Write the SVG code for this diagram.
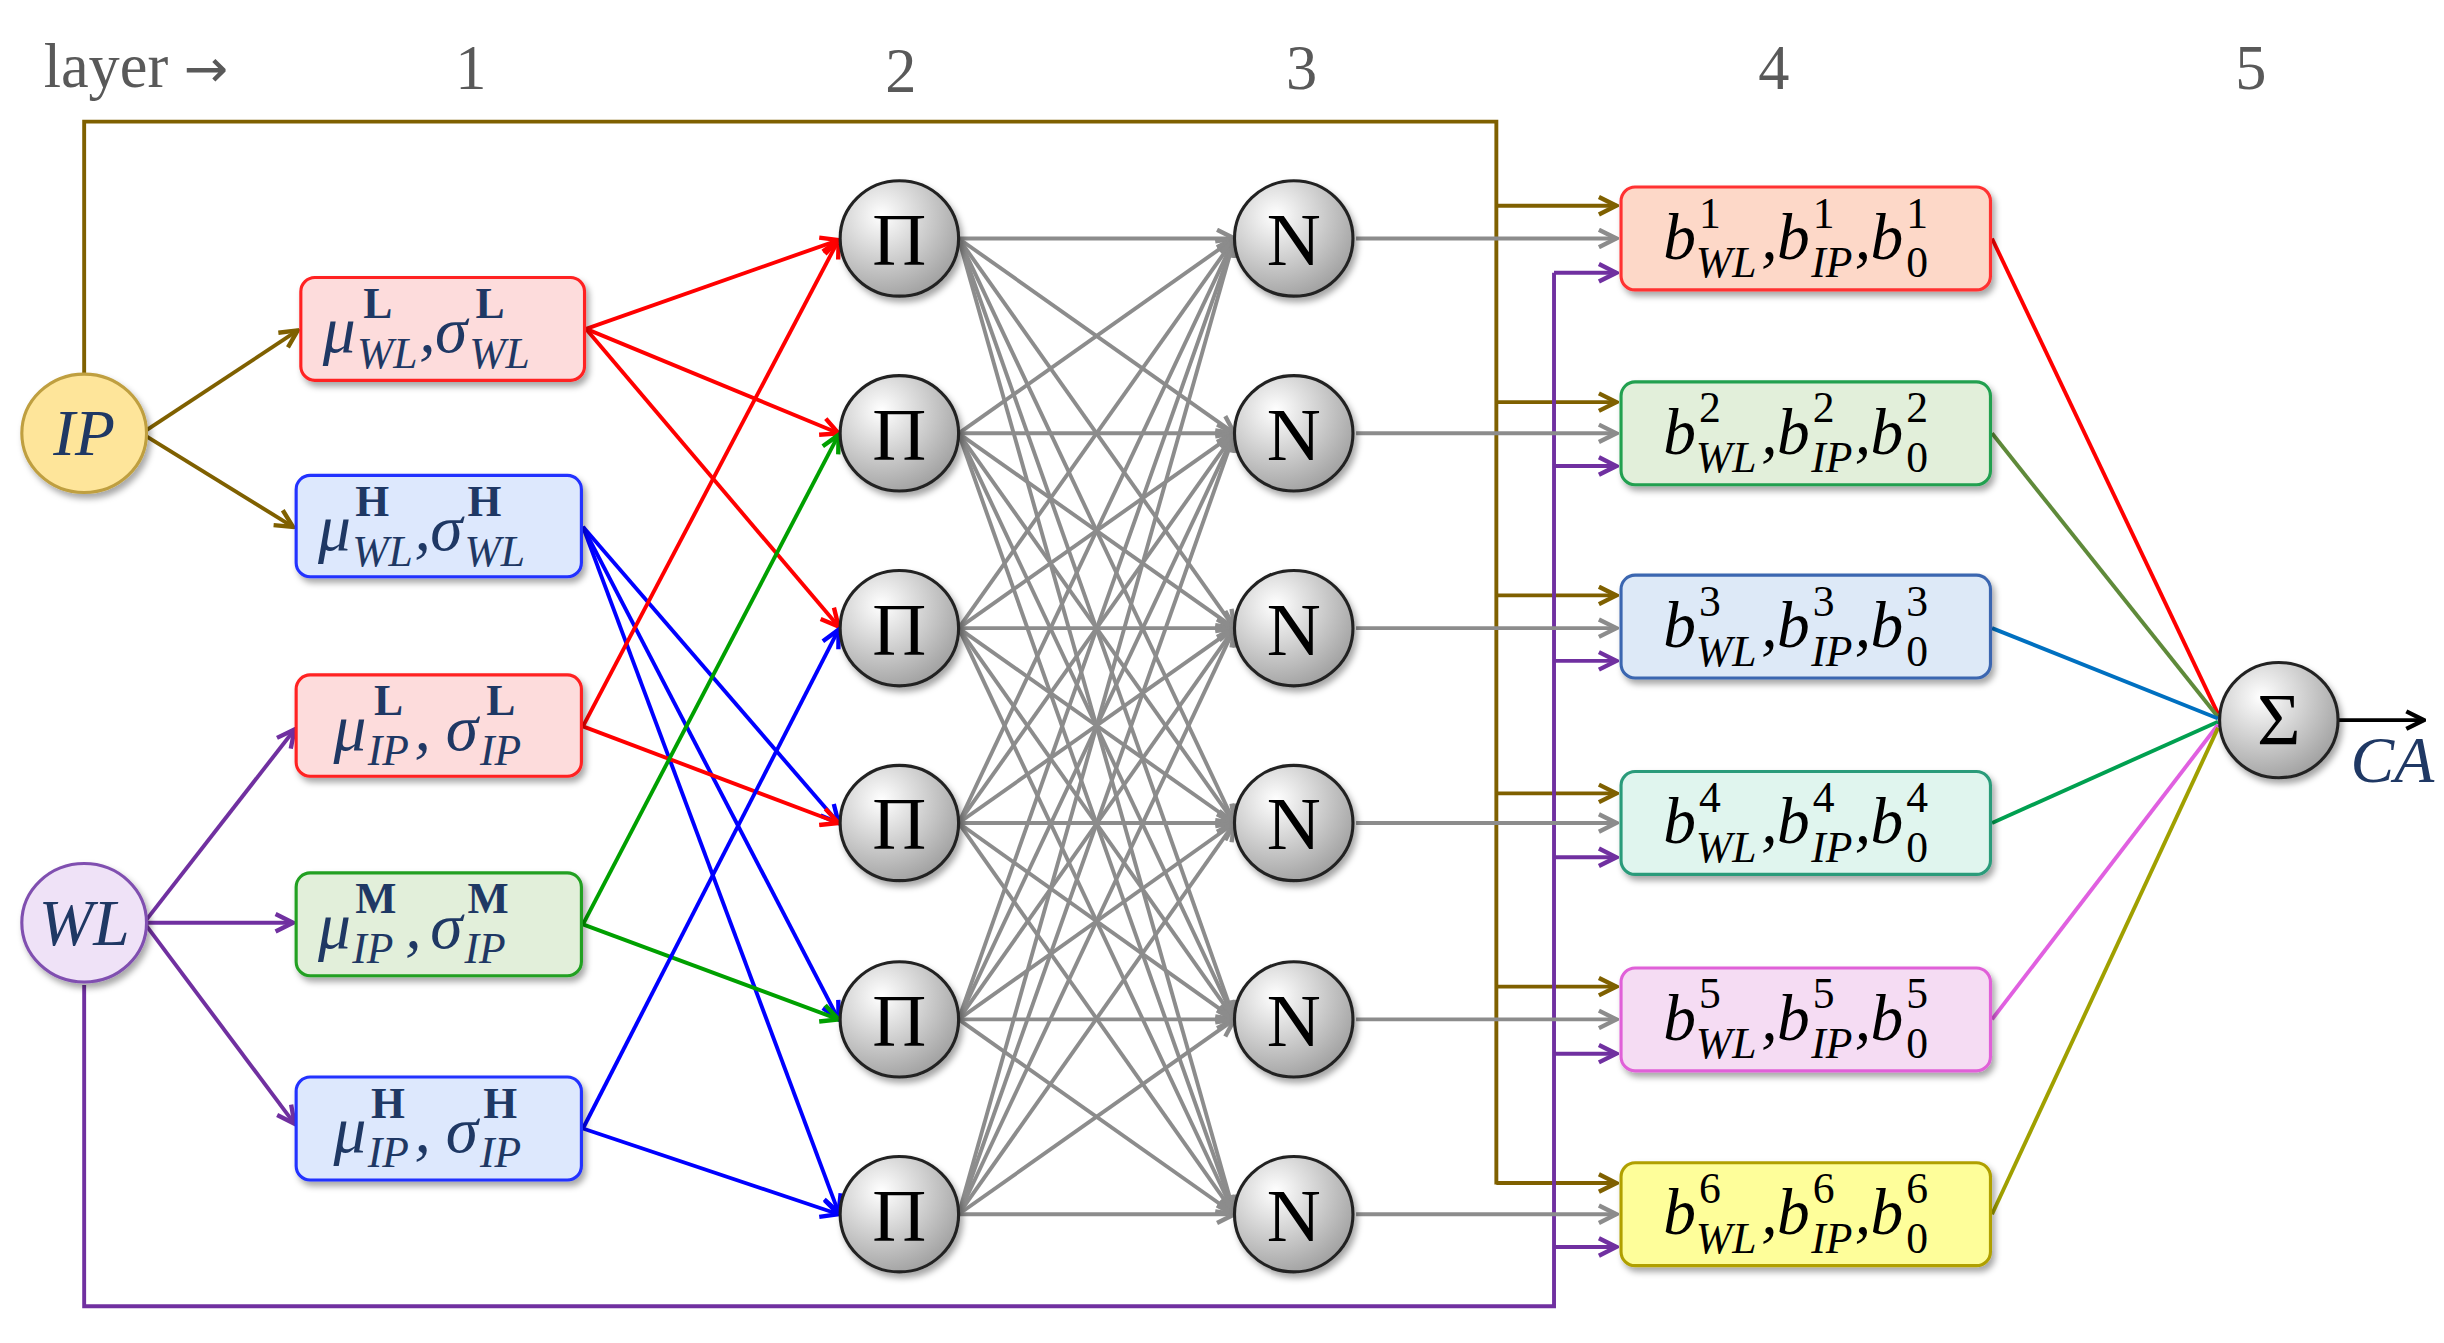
<svg xmlns="http://www.w3.org/2000/svg" width="2444" height="1343" viewBox="0 0 2444 1343">
<style>
.hd{font-family:"Liberation Serif",serif;font-size:40px;fill:#595959}
.m{font-family:"Liberation Serif",serif;font-style:italic;font-size:42px}
.s{font-family:"Liberation Serif",serif;font-style:italic;font-size:28px}
.sb{font-family:"Liberation Serif",serif;font-weight:bold;font-size:28px}
.sn{font-family:"Liberation Serif",serif;font-size:28px}
.nv{fill:#1f3864}
.op{font-family:"Liberation Serif",serif;font-size:48px;text-anchor:middle;fill:#000}
.c{fill:none;stroke-width:2.5}
.br{stroke:#7f6000}.pu{stroke:#7030a0}.gr{stroke:#8c8c8c}.rd{stroke:#ff0000}.bl{stroke:#0000ff}.gn{stroke:#00a000}
</style>
<defs>
<radialGradient id="g" cx="0.35" cy="0.3" r="0.8"><stop offset="0" stop-color="#ffffff"/><stop offset="1" stop-color="#9a9a9a"/></radialGradient>
<filter id="sh" x="-10%" y="-10%" width="125%" height="130%"><feDropShadow dx="2" dy="3" stdDeviation="2" flood-color="#000" flood-opacity="0.35"/></filter>
<marker id="aBr" viewBox="0 0 10 10" refX="9" refY="5" markerWidth="14" markerHeight="14" markerUnits="userSpaceOnUse" orient="auto"><path d="M1,1 L9,5 L1,9" fill="none" stroke="#7f6000" stroke-width="2"/></marker>
<marker id="aPu" viewBox="0 0 10 10" refX="9" refY="5" markerWidth="14" markerHeight="14" markerUnits="userSpaceOnUse" orient="auto"><path d="M1,1 L9,5 L1,9" fill="none" stroke="#7030a0" stroke-width="2"/></marker>
<marker id="aGr" viewBox="0 0 10 10" refX="9" refY="5" markerWidth="14" markerHeight="14" markerUnits="userSpaceOnUse" orient="auto"><path d="M1,1 L9,5 L1,9" fill="none" stroke="#8c8c8c" stroke-width="2"/></marker>
<marker id="aRd" viewBox="0 0 10 10" refX="9" refY="5" markerWidth="14" markerHeight="14" markerUnits="userSpaceOnUse" orient="auto"><path d="M1,1 L9,5 L1,9" fill="none" stroke="#ff0000" stroke-width="2"/></marker>
<marker id="aBl" viewBox="0 0 10 10" refX="9" refY="5" markerWidth="14" markerHeight="14" markerUnits="userSpaceOnUse" orient="auto"><path d="M1,1 L9,5 L1,9" fill="none" stroke="#0000ff" stroke-width="2"/></marker>
<marker id="aGn" viewBox="0 0 10 10" refX="9" refY="5" markerWidth="14" markerHeight="14" markerUnits="userSpaceOnUse" orient="auto"><path d="M1,1 L9,5 L1,9" fill="none" stroke="#00a000" stroke-width="2"/></marker>
<marker id="aBk" viewBox="0 0 10 10" refX="9" refY="5" markerWidth="14" markerHeight="14" markerUnits="userSpaceOnUse" orient="auto"><path d="M1,1 L9,5 L1,9" fill="none" stroke="#000" stroke-width="2"/></marker>
</defs>
<rect width="2444" height="1343" fill="#fff"/>
<g transform="scale(1.5587)">
<g id="header">
<text class="hd" x="28" y="56">layer <tspan font-family="DejaVu Sans" font-size="34">→</tspan></text>
<text class="hd" x="302" y="57" text-anchor="middle">1</text>
<text class="hd" x="578" y="59" text-anchor="middle">2</text>
<text class="hd" x="835" y="57" text-anchor="middle">3</text>
<text class="hd" x="1138" y="57" text-anchor="middle">4</text>
<text class="hd" x="1444" y="57" text-anchor="middle">5</text>
</g>
<g id="connectors">
<path class="c br" d="M54,241 V78 H960 V760"/>
<line class="c br" x1="960" y1="132" x2="1037" y2="132" marker-end="url(#aBr)"/>
<line class="c br" x1="960" y1="258" x2="1037" y2="258" marker-end="url(#aBr)"/>
<line class="c br" x1="960" y1="382" x2="1037" y2="382" marker-end="url(#aBr)"/>
<line class="c br" x1="960" y1="509" x2="1037" y2="509" marker-end="url(#aBr)"/>
<line class="c br" x1="960" y1="633" x2="1037" y2="633" marker-end="url(#aBr)"/>
<line class="c br" x1="960" y1="759" x2="1037" y2="759" marker-end="url(#aBr)"/>
<line class="c br" x1="94" y1="276" x2="191" y2="212" marker-end="url(#aBr)"/>
<line class="c br" x1="94" y1="280" x2="188" y2="338" marker-end="url(#aBr)"/>
<path class="c pu" d="M54,632 V838 H997 V175"/>
<line class="c pu" x1="997" y1="175" x2="1037" y2="175" marker-end="url(#aPu)"/>
<line class="c pu" x1="997" y1="299" x2="1037" y2="299" marker-end="url(#aPu)"/>
<line class="c pu" x1="997" y1="424" x2="1037" y2="424" marker-end="url(#aPu)"/>
<line class="c pu" x1="997" y1="550" x2="1037" y2="550" marker-end="url(#aPu)"/>
<line class="c pu" x1="997" y1="676" x2="1037" y2="676" marker-end="url(#aPu)"/>
<line class="c pu" x1="997" y1="800" x2="1037" y2="800" marker-end="url(#aPu)"/>
<line class="c pu" x1="94" y1="590" x2="189" y2="468" marker-end="url(#aPu)"/>
<line class="c pu" x1="94" y1="592" x2="188" y2="592" marker-end="url(#aPu)"/>
<line class="c pu" x1="94" y1="594" x2="189" y2="721" marker-end="url(#aPu)"/>
<line class="c gr" x1="870" y1="153" x2="1037" y2="153" marker-end="url(#aGr)"/>
<line class="c gr" x1="870" y1="278" x2="1037" y2="278" marker-end="url(#aGr)"/>
<line class="c gr" x1="870" y1="403" x2="1037" y2="403" marker-end="url(#aGr)"/>
<line class="c gr" x1="870" y1="528" x2="1037" y2="528" marker-end="url(#aGr)"/>
<line class="c gr" x1="870" y1="654" x2="1037" y2="654" marker-end="url(#aGr)"/>
<line class="c gr" x1="870" y1="779" x2="1037" y2="779" marker-end="url(#aGr)"/>
<line class="c rd" x1="376" y1="211" x2="538" y2="154" marker-end="url(#aRd)"/>
<line class="c rd" x1="376" y1="211" x2="538" y2="278" marker-end="url(#aRd)"/>
<line class="c rd" x1="376" y1="211" x2="538" y2="402" marker-end="url(#aRd)"/>
<line class="c bl" x1="374" y1="338" x2="538" y2="528" marker-end="url(#aBl)"/>
<line class="c bl" x1="374" y1="338" x2="538" y2="654" marker-end="url(#aBl)"/>
<line class="c bl" x1="374" y1="338" x2="538" y2="778" marker-end="url(#aBl)"/>
<line class="c rd" x1="374" y1="466" x2="538" y2="154" marker-end="url(#aRd)"/>
<line class="c rd" x1="374" y1="466" x2="538" y2="528" marker-end="url(#aRd)"/>
<line class="c gn" x1="374" y1="593" x2="538" y2="279" marker-end="url(#aGn)"/>
<line class="c gn" x1="374" y1="593" x2="538" y2="654" marker-end="url(#aGn)"/>
<line class="c bl" x1="374" y1="724" x2="538" y2="404" marker-end="url(#aBl)"/>
<line class="c bl" x1="374" y1="724" x2="538" y2="779" marker-end="url(#aBl)"/>
<g class="c gr">
<line x1="615" y1="153" x2="792" y2="153" marker-end="url(#aGr)"/><line x1="615" y1="153" x2="792" y2="278" marker-end="url(#aGr)"/><line x1="615" y1="153" x2="792" y2="403" marker-end="url(#aGr)"/><line x1="615" y1="153" x2="792" y2="528" marker-end="url(#aGr)"/><line x1="615" y1="153" x2="792" y2="654" marker-end="url(#aGr)"/><line x1="615" y1="153" x2="792" y2="779" marker-end="url(#aGr)"/>
<line x1="615" y1="278" x2="792" y2="153" marker-end="url(#aGr)"/><line x1="615" y1="278" x2="792" y2="278" marker-end="url(#aGr)"/><line x1="615" y1="278" x2="792" y2="403" marker-end="url(#aGr)"/><line x1="615" y1="278" x2="792" y2="528" marker-end="url(#aGr)"/><line x1="615" y1="278" x2="792" y2="654" marker-end="url(#aGr)"/><line x1="615" y1="278" x2="792" y2="779" marker-end="url(#aGr)"/>
<line x1="615" y1="403" x2="792" y2="153" marker-end="url(#aGr)"/><line x1="615" y1="403" x2="792" y2="278" marker-end="url(#aGr)"/><line x1="615" y1="403" x2="792" y2="403" marker-end="url(#aGr)"/><line x1="615" y1="403" x2="792" y2="528" marker-end="url(#aGr)"/><line x1="615" y1="403" x2="792" y2="654" marker-end="url(#aGr)"/><line x1="615" y1="403" x2="792" y2="779" marker-end="url(#aGr)"/>
<line x1="615" y1="528" x2="792" y2="153" marker-end="url(#aGr)"/><line x1="615" y1="528" x2="792" y2="278" marker-end="url(#aGr)"/><line x1="615" y1="528" x2="792" y2="403" marker-end="url(#aGr)"/><line x1="615" y1="528" x2="792" y2="528" marker-end="url(#aGr)"/><line x1="615" y1="528" x2="792" y2="654" marker-end="url(#aGr)"/><line x1="615" y1="528" x2="792" y2="779" marker-end="url(#aGr)"/>
<line x1="615" y1="654" x2="792" y2="153" marker-end="url(#aGr)"/><line x1="615" y1="654" x2="792" y2="278" marker-end="url(#aGr)"/><line x1="615" y1="654" x2="792" y2="403" marker-end="url(#aGr)"/><line x1="615" y1="654" x2="792" y2="528" marker-end="url(#aGr)"/><line x1="615" y1="654" x2="792" y2="654" marker-end="url(#aGr)"/><line x1="615" y1="654" x2="792" y2="779" marker-end="url(#aGr)"/>
<line x1="615" y1="779" x2="792" y2="153" marker-end="url(#aGr)"/><line x1="615" y1="779" x2="792" y2="278" marker-end="url(#aGr)"/><line x1="615" y1="779" x2="792" y2="403" marker-end="url(#aGr)"/><line x1="615" y1="779" x2="792" y2="528" marker-end="url(#aGr)"/><line x1="615" y1="779" x2="792" y2="654" marker-end="url(#aGr)"/><line x1="615" y1="779" x2="792" y2="779" marker-end="url(#aGr)"/>
</g>
<line class="c" stroke="#ff0000" x1="1278" y1="153" x2="1423" y2="458"/>
<line class="c" stroke="#5f8a3a" x1="1278" y1="278" x2="1423" y2="460"/>
<line class="c" stroke="#0070c0" x1="1278" y1="403" x2="1423" y2="461"/>
<line class="c" stroke="#00a050" x1="1278" y1="528" x2="1423" y2="463"/>
<line class="c" stroke="#e060e0" x1="1278" y1="654" x2="1423" y2="465"/>
<line class="c" stroke="#a0a000" x1="1278" y1="779" x2="1423" y2="467"/>
<line class="c" stroke="#000" x1="1500" y1="462" x2="1555" y2="462" marker-end="url(#aBk)"/>
</g>
<g id="IP"><ellipse cx="54" cy="278" rx="40" ry="38" fill="#fee59a" stroke="#bf9f40" stroke-width="2" filter="url(#sh)"/><text class="m nv" x="54" y="292" text-anchor="middle">IP</text></g>
<g id="WL"><ellipse cx="54" cy="592" rx="40" ry="38" fill="#efe2f7" stroke="#8050b0" stroke-width="2" filter="url(#sh)"/><text class="m nv" x="54" y="606" text-anchor="middle">WL</text></g>
<g id="l1a" transform="translate(193,178)"><rect width="182" height="66" rx="9" fill="#fddcdc" stroke="#ff2020" stroke-width="2" filter="url(#sh)"/>
<text class="nv"><tspan class="m" x="14" y="48">μ</tspan><tspan class="sb" x="40" y="26">L</tspan><tspan class="s" x="36" y="58">WL</tspan><tspan class="m" x="76" y="48">,</tspan><tspan class="m" x="86" y="48">σ</tspan><tspan class="sb" x="112" y="26">L</tspan><tspan class="s" x="108" y="58">WL</tspan></text></g>
<g id="l1b" transform="translate(190,305)"><rect width="183" height="65" rx="9" fill="#dde8fd" stroke="#2030ff" stroke-width="2" filter="url(#sh)"/>
<text class="nv"><tspan class="m" x="14" y="48">μ</tspan><tspan class="sb" x="38" y="26">H</tspan><tspan class="s" x="36" y="58">WL</tspan><tspan class="m" x="76" y="48">,</tspan><tspan class="m" x="86" y="48">σ</tspan><tspan class="sb" x="110" y="26">H</tspan><tspan class="s" x="108" y="58">WL</tspan></text></g>
<g id="l1c" transform="translate(190,433)"><rect width="183" height="65" rx="9" fill="#fddcdc" stroke="#ff2020" stroke-width="2" filter="url(#sh)"/>
<text class="nv"><tspan class="m" x="24" y="48">μ</tspan><tspan class="sb" x="50" y="26">L</tspan><tspan class="s" x="46" y="58">IP</tspan><tspan class="m" x="76" y="48">,</tspan><tspan class="m" x="96" y="48">σ</tspan><tspan class="sb" x="122" y="26">L</tspan><tspan class="s" x="118" y="58">IP</tspan></text></g>
<g id="l1d" transform="translate(190,560)"><rect width="183" height="66" rx="9" fill="#e2efda" stroke="#20a020" stroke-width="2" filter="url(#sh)"/>
<text class="nv"><tspan class="m" x="14" y="48">μ</tspan><tspan class="sb" x="38" y="26">M</tspan><tspan class="s" x="36" y="58">IP</tspan><tspan class="m" x="70" y="48">,</tspan><tspan class="m" x="86" y="48">σ</tspan><tspan class="sb" x="110" y="26">M</tspan><tspan class="s" x="108" y="58">IP</tspan></text></g>
<g id="l1e" transform="translate(190,691)"><rect width="183" height="66" rx="9" fill="#dde8fd" stroke="#2030ff" stroke-width="2" filter="url(#sh)"/>
<text class="nv"><tspan class="m" x="24" y="48">μ</tspan><tspan class="sb" x="48" y="26">H</tspan><tspan class="s" x="46" y="58">IP</tspan><tspan class="m" x="76" y="48">,</tspan><tspan class="m" x="96" y="48">σ</tspan><tspan class="sb" x="120" y="26">H</tspan><tspan class="s" x="118" y="58">IP</tspan></text></g>
<g id="P1"><ellipse cx="577" cy="153" rx="38" ry="37" fill="url(#g)" stroke="#222" stroke-width="2" filter="url(#sh)"/><text class="op" x="577" y="170">Π</text></g>
<g id="P2"><ellipse cx="577" cy="278" rx="38" ry="37" fill="url(#g)" stroke="#222" stroke-width="2" filter="url(#sh)"/><text class="op" x="577" y="295">Π</text></g>
<g id="P3"><ellipse cx="577" cy="403" rx="38" ry="37" fill="url(#g)" stroke="#222" stroke-width="2" filter="url(#sh)"/><text class="op" x="577" y="420">Π</text></g>
<g id="P4"><ellipse cx="577" cy="528" rx="38" ry="37" fill="url(#g)" stroke="#222" stroke-width="2" filter="url(#sh)"/><text class="op" x="577" y="545">Π</text></g>
<g id="P5"><ellipse cx="577" cy="654" rx="38" ry="37" fill="url(#g)" stroke="#222" stroke-width="2" filter="url(#sh)"/><text class="op" x="577" y="671">Π</text></g>
<g id="P6"><ellipse cx="577" cy="779" rx="38" ry="37" fill="url(#g)" stroke="#222" stroke-width="2" filter="url(#sh)"/><text class="op" x="577" y="796">Π</text></g>
<g id="N1"><ellipse cx="830" cy="153" rx="38" ry="37" fill="url(#g)" stroke="#222" stroke-width="2" filter="url(#sh)"/><text class="op" x="830" y="170">N</text></g>
<g id="N2"><ellipse cx="830" cy="278" rx="38" ry="37" fill="url(#g)" stroke="#222" stroke-width="2" filter="url(#sh)"/><text class="op" x="830" y="295">N</text></g>
<g id="N3"><ellipse cx="830" cy="403" rx="38" ry="37" fill="url(#g)" stroke="#222" stroke-width="2" filter="url(#sh)"/><text class="op" x="830" y="420">N</text></g>
<g id="N4"><ellipse cx="830" cy="528" rx="38" ry="37" fill="url(#g)" stroke="#222" stroke-width="2" filter="url(#sh)"/><text class="op" x="830" y="545">N</text></g>
<g id="N5"><ellipse cx="830" cy="654" rx="38" ry="37" fill="url(#g)" stroke="#222" stroke-width="2" filter="url(#sh)"/><text class="op" x="830" y="671">N</text></g>
<g id="N6"><ellipse cx="830" cy="779" rx="38" ry="37" fill="url(#g)" stroke="#222" stroke-width="2" filter="url(#sh)"/><text class="op" x="830" y="796">N</text></g>
<g id="B1" transform="translate(1040,120)"><rect width="237" height="66" rx="9" fill="#fdd8c8" stroke="#ff3030" stroke-width="2" filter="url(#sh)"/>
<text><tspan class="m" x="27" y="46">b</tspan><tspan class="sn" x="50" y="26">1</tspan><tspan class="s" x="48" y="58">WL</tspan><tspan class="m" x="90" y="46">,</tspan><tspan class="m" x="100" y="46">b</tspan><tspan class="sn" x="123" y="26">1</tspan><tspan class="s" x="122" y="58">IP</tspan><tspan class="m" x="150" y="46">,</tspan><tspan class="m" x="160" y="46">b</tspan><tspan class="sn" x="183" y="26">1</tspan><tspan class="sn" x="183" y="58">0</tspan></text></g>
<g id="B2" transform="translate(1040,245)"><rect width="237" height="66" rx="9" fill="#e2efda" stroke="#20a050" stroke-width="2" filter="url(#sh)"/>
<text><tspan class="m" x="27" y="46">b</tspan><tspan class="sn" x="50" y="26">2</tspan><tspan class="s" x="48" y="58">WL</tspan><tspan class="m" x="90" y="46">,</tspan><tspan class="m" x="100" y="46">b</tspan><tspan class="sn" x="123" y="26">2</tspan><tspan class="s" x="122" y="58">IP</tspan><tspan class="m" x="150" y="46">,</tspan><tspan class="m" x="160" y="46">b</tspan><tspan class="sn" x="183" y="26">2</tspan><tspan class="sn" x="183" y="58">0</tspan></text></g>
<g id="B3" transform="translate(1040,369)"><rect width="237" height="66" rx="9" fill="#dde9f7" stroke="#3b66b0" stroke-width="2" filter="url(#sh)"/>
<text><tspan class="m" x="27" y="46">b</tspan><tspan class="sn" x="50" y="26">3</tspan><tspan class="s" x="48" y="58">WL</tspan><tspan class="m" x="90" y="46">,</tspan><tspan class="m" x="100" y="46">b</tspan><tspan class="sn" x="123" y="26">3</tspan><tspan class="s" x="122" y="58">IP</tspan><tspan class="m" x="150" y="46">,</tspan><tspan class="m" x="160" y="46">b</tspan><tspan class="sn" x="183" y="26">3</tspan><tspan class="sn" x="183" y="58">0</tspan></text></g>
<g id="B4" transform="translate(1040,495)"><rect width="237" height="66" rx="9" fill="#e0f5ee" stroke="#2a9b7a" stroke-width="2" filter="url(#sh)"/>
<text><tspan class="m" x="27" y="46">b</tspan><tspan class="sn" x="50" y="26">4</tspan><tspan class="s" x="48" y="58">WL</tspan><tspan class="m" x="90" y="46">,</tspan><tspan class="m" x="100" y="46">b</tspan><tspan class="sn" x="123" y="26">4</tspan><tspan class="s" x="122" y="58">IP</tspan><tspan class="m" x="150" y="46">,</tspan><tspan class="m" x="160" y="46">b</tspan><tspan class="sn" x="183" y="26">4</tspan><tspan class="sn" x="183" y="58">0</tspan></text></g>
<g id="B5" transform="translate(1040,621)"><rect width="237" height="66" rx="9" fill="#f5dcf3" stroke="#e060d8" stroke-width="2" filter="url(#sh)"/>
<text><tspan class="m" x="27" y="46">b</tspan><tspan class="sn" x="50" y="26">5</tspan><tspan class="s" x="48" y="58">WL</tspan><tspan class="m" x="90" y="46">,</tspan><tspan class="m" x="100" y="46">b</tspan><tspan class="sn" x="123" y="26">5</tspan><tspan class="s" x="122" y="58">IP</tspan><tspan class="m" x="150" y="46">,</tspan><tspan class="m" x="160" y="46">b</tspan><tspan class="sn" x="183" y="26">5</tspan><tspan class="sn" x="183" y="58">0</tspan></text></g>
<g id="B6" transform="translate(1040,746)"><rect width="237" height="66" rx="9" fill="#fefe9a" stroke="#b0a000" stroke-width="2" filter="url(#sh)"/>
<text><tspan class="m" x="27" y="46">b</tspan><tspan class="sn" x="50" y="26">6</tspan><tspan class="s" x="48" y="58">WL</tspan><tspan class="m" x="90" y="46">,</tspan><tspan class="m" x="100" y="46">b</tspan><tspan class="sn" x="123" y="26">6</tspan><tspan class="s" x="122" y="58">IP</tspan><tspan class="m" x="150" y="46">,</tspan><tspan class="m" x="160" y="46">b</tspan><tspan class="sn" x="183" y="26">6</tspan><tspan class="sn" x="183" y="58">0</tspan></text></g>
<g id="SUM"><ellipse cx="1462" cy="462" rx="38" ry="37" fill="url(#g)" stroke="#222" stroke-width="2" filter="url(#sh)"/><text class="op" x="1462" y="478">Σ</text></g>
<g id="CA"><text class="m nv" x="1508" y="502" font-size="36">CA</text></g>
</g>
</svg>
